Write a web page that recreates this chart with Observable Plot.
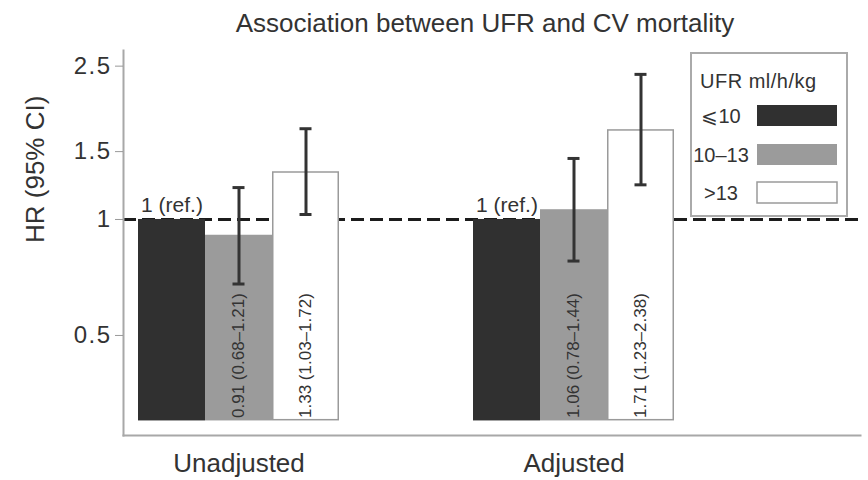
<!DOCTYPE html>
<html>
<head>
<meta charset="utf-8">
<script src="https://cdn.jsdelivr.net/npm/d3@7"></script>
<script src="https://cdn.jsdelivr.net/npm/@observablehq/plot@0.6"></script>
<style>
  body { margin: 0; background: #fff; }
  #chart { position: relative; width: 868px; height: 480px; }
  #chart svg { font-family: "Liberation Sans", Arial, sans-serif; }
  #chart > svg.legend { position: absolute; left: 0; top: 0; pointer-events: none; }
  g[aria-label="y-axis tick label"] text { letter-spacing: 1.5px; }
  g[aria-label="title"] text { letter-spacing: 1px; }
  g[aria-label="group label"] text { letter-spacing: 1px; }
  g[aria-label="y label"] text { letter-spacing: 1.6px; }
  g[aria-label="estimate label"] text { letter-spacing: 0.8px; }
</style>
</head>
<body>
<div id="chart"></div>
<script>
// Hazard ratios for cardiovascular mortality by ultrafiltration rate (UFR)
const groups = ["Unadjusted", "Adjusted"];
const ufrCategories = ["⩽10", "10–13", ">13"];
const ufrColors = ["#303030", "#9b9b9b", "#ffffff"];

const hrUnadjusted = [1, 0.91, 1.33];
const ciLowUnadjusted = [null, 0.68, 1.03];
const ciHighUnadjusted = [null, 1.21, 1.72];

const hrAdjusted = [1, 1.06, 1.71];
const ciLowAdjusted = [null, 0.78, 1.23];
const ciHighAdjusted = [null, 1.44, 2.38];

const yTicks = [0.5, 1, 1.5, 2.5];
const barBase = 0.3;

const chartTitle = "Association between UFR and CV mortality";
const yLabel = "HR (95% CI)";
const legendTitle = "UFR ml/h/kg";
const refLabel = "1 (ref.)";

// one row per bar
const series = [
  {group: groups[0], hr: hrUnadjusted, lo: ciLowUnadjusted, hi: ciHighUnadjusted},
  {group: groups[1], hr: hrAdjusted, lo: ciLowAdjusted, hi: ciHighAdjusted}
];
const rows = series.flatMap(s => ufrCategories.map((category, i) => ({
  group: s.group,
  category,
  key: `${s.group} ${category}`,
  hr: s.hr[i],
  lo: s.lo[i],
  hi: s.hi[i]
})));
const ciRows = rows.filter(d => d.lo != null);
const refRows = rows.filter(d => d.lo == null);
const groupRows = groups.map(g => ({group: g, key: `${g} ${ufrCategories[1]}`}));

// band domain: the two groups separated by two empty slots
const xDomain = [
  ...ufrCategories.map(c => `${groups[0]} ${c}`),
  "gap 1", "gap 2",
  ...ufrCategories.map(c => `${groups[1]} ${c}`)
];

const fmt = v => v.toFixed(2);
const ink = "#333";

const plot = Plot.plot({
  width: 868,
  height: 480,
  marginLeft: 123,
  marginRight: 8,
  marginTop: 50,
  marginBottom: 45,
  style: {background: "transparent", color: ink, fontFamily: "Liberation Sans, Arial, sans-serif"},
  x: {type: "band", domain: xDomain, range: [137, 675], padding: 0, axis: null},
  y: {type: "log", domain: [0.275, 2.745], axis: null},
  color: {domain: ufrCategories, range: ufrColors},
  marks: [
    Plot.ruleY([1], {stroke: "#1c1c1c", strokeWidth: 3, strokeDasharray: "13,6"}),
    Plot.barY(rows, {x: "key", y1: barBase, y2: "hr", fill: "category"}),
    Plot.barY(rows, {
      filter: d => d.category === ufrCategories[2],
      x: "key", y1: barBase, y2: "hr", fill: "none", stroke: "#9a9a9a", strokeWidth: 1.5, inset: 0.75
    }),
    // confidence intervals
    Plot.ruleX(ciRows, {x: "key", y1: "lo", y2: "hi", stroke: ink, strokeWidth: 3}),
    Plot.tickY(ciRows, {x: "key", y: "lo", stroke: ink, strokeWidth: 3, insetLeft: 27.5, insetRight: 27.5}),
    Plot.tickY(ciRows, {x: "key", y: "hi", stroke: ink, strokeWidth: 3, insetLeft: 27.5, insetRight: 27.5}),
    // estimates written up the bars
    Plot.text(ciRows, {
      x: "key", y: barBase, rotate: -90, textAnchor: "start", dy: -3,
      text: d => `${fmt(d.hr)} (${fmt(d.lo)}–${fmt(d.hi)})`,
      fontSize: 17, fill: ink, ariaLabel: "estimate label"
    }),
    Plot.text(refRows, {x: "key", y: "hr", text: () => refLabel, dy: -14, fontSize: 21, fill: ink}),
    // axes
    Plot.frame({anchor: "left", stroke: "#a8a8a8", strokeWidth: 2}),
    Plot.frame({anchor: "bottom", stroke: "#a8a8a8", strokeWidth: 2}),
    Plot.axisY(yTicks, {
      tickSize: 8, tickPadding: 4, tickFormat: d => String(d),
      fontSize: 24, stroke: "#999", fill: ink, label: null
    }),
    Plot.text(groupRows, {
      x: "key", text: "group", frameAnchor: "bottom", lineAnchor: "middle", dy: 28,
      fontSize: 26, fill: ink, ariaLabel: "group label"
    }),
    Plot.text([yLabel], {
      text: d => d, frameAnchor: "left", lineAnchor: "middle", rotate: -90, dx: -88,
      fontSize: 26, fill: ink, ariaLabel: "y label"
    }),
    Plot.text([chartTitle], {
      text: d => d, frameAnchor: "top", lineAnchor: "middle", dx: -7, dy: -27,
      fontSize: 26, fill: ink, ariaLabel: "title"
    })
  ]
});

const chart = document.getElementById("chart");
chart.appendChild(plot);

// legend box in the upper right of the plot area
const legend = d3.select(chart).append("svg")
  .attr("class", "legend")
  .attr("width", 868)
  .attr("height", 480);

legend.append("rect")
  .attr("x", 691).attr("y", 53).attr("width", 156).attr("height", 163)
  .attr("fill", "#fff").attr("stroke", "#aaa").attr("stroke-width", 2);

legend.append("text")
  .attr("x", 700).attr("y", 88)
  .attr("font-size", 20).attr("letter-spacing", 0.5).attr("fill", ink)
  .text(legendTitle);

const itemCenters = [115.5, 154.5, 192.5];
ufrCategories.forEach((c, i) => {
  legend.append("text")
    .attr("x", 721).attr("y", itemCenters[i] + 7)
    .attr("text-anchor", "middle").attr("font-size", 20).attr("fill", ink)
    .text(c);
  legend.append("rect")
    .attr("x", 757).attr("y", itemCenters[i] - 10.5)
    .attr("width", 80).attr("height", 21)
    .attr("fill", ufrColors[i])
    .attr("stroke", i === 2 ? "#9a9a9a" : "none")
    .attr("stroke-width", 1.5);
});
</script>
</body>
</html>
